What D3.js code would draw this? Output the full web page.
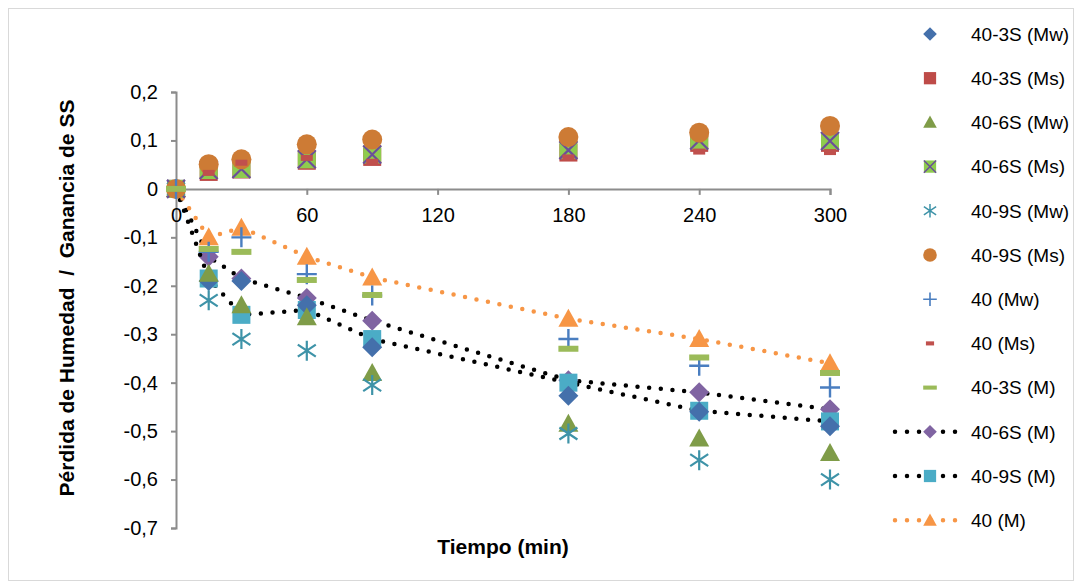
<!DOCTYPE html>
<html><head><meta charset="utf-8">
<script src="https://cdn.jsdelivr.net/npm/d3@7"></script>
<style>
html,body{margin:0;padding:0;background:#fff;}
svg{display:block;font-family:"Liberation Sans",Arial,sans-serif;}
</style></head>
<body>
<svg id="chart" width="1076" height="586"></svg>
<script>
// ---------- data ----------
const times = [0, 15, 30, 60, 90, 180, 240, 300];
const xTicks = [0, 60, 120, 180, 240, 300];
const yTicks = [0.2, 0.1, 0, -0.1, -0.2, -0.3, -0.4, -0.5, -0.6, -0.7];

const s40_3S_Mw = [0, -0.19, -0.19, -0.24, -0.327, -0.427, -0.46, -0.49];
const s40_3S_Ms = [0, 0.035, 0.040, 0.058, 0.066, 0.075, 0.095, 0.095];
const s40_6S_Mw = [0, -0.175, -0.24, -0.265, -0.38, -0.485, -0.515, -0.545];
const s40_6S_Ms = [0, 0.039, 0.041, 0.061, 0.071, 0.080, 0.100, 0.099];
const s40_9S_Mw = [0, -0.23, -0.31, -0.334, -0.405, -0.505, -0.56, -0.60];
const s40_9S_Ms = [0, 0.051, 0.061, 0.092, 0.102, 0.107, 0.116, 0.130];
const s40_Mw    = [0, -0.13, -0.10, -0.176, -0.22, -0.31, -0.365, -0.41];
const s40_Ms    = [0, 0.033, 0.054, 0.064, 0.056, 0.065, 0.077, 0.076];
const s40_3S_M  = [0, -0.124, -0.13, -0.188, -0.219, -0.33, -0.348, -0.38];
const s40_6S_M  = [0, -0.14, -0.185, -0.225, -0.272, -0.395, -0.42, -0.455];
const s40_9S_M  = [0, -0.185, -0.26, -0.25, -0.31, -0.40, -0.458, -0.48];
const s40_M     = [0, -0.10, -0.08, -0.14, -0.183, -0.268, -0.31, -0.36];

const seriesNames = ["40-3S (Mw)", "40-3S (Ms)", "40-6S (Mw)", "40-6S (Ms)", "40-9S (Mw)", "40-9S (Ms)",
                     "40 (Mw)", "40 (Ms)", "40-3S (M)", "40-6S (M)", "40-9S (M)", "40 (M)"];
const seriesValues = [s40_3S_Mw, s40_3S_Ms, s40_6S_Mw, s40_6S_Ms, s40_9S_Mw, s40_9S_Ms,
                      s40_Mw, s40_Ms, s40_3S_M, s40_6S_M, s40_9S_M, s40_M];
const seriesMarker = ["diamond", "square", "triangle", "xsquare", "asterisk", "circle",
                      "plus", "smalldash", "dash", "diamond", "square", "triangle"];
const seriesColor = ["#4470AB", "#BE4B48", "#7F9C48", "#8FCB4E", "#3E93A8", "#CD7B35",
                     "#4A7EC0", "#C0504D", "#9BBB59", "#8064A2", "#4BACC6", "#F79646"];
const seriesLine = [null, null, null, null, null, null, null, null, null, "#000000", "#000000", "#F79646"];
// drawing order (line series underneath, as in the source)
const drawOrder = [9, 10, 11, 0, 1, 2, 3, 4, 5, 6, 7, 8];

// ---------- layout ----------
const svg = d3.select("#chart");
const x = d3.scaleLinear().domain([0, 300]).range([176, 830]);
const y = d3.scaleLinear().domain([-0.7, 0.2]).range([528, 92]);
const fmt = d => (Math.abs(d) < 1e-9 ? "0" : String(+d.toFixed(1)).replace(".", ","));

svg.append("rect").attr("x", 8.5).attr("y", 8.5).attr("width", 1065).attr("height", 572)
  .attr("fill", "#fff").attr("stroke", "#d9d9d9").attr("stroke-width", 1);

// axes
const axisColor = "#8c8c8c";
const gy = svg.append("g").attr("transform", `translate(${x(0)},0)`)
  .call(d3.axisLeft(y).tickValues(yTicks).tickFormat(fmt).tickSize(5).tickSizeOuter(5).tickPadding(13));
const gx = svg.append("g").attr("transform", `translate(0,${y(0)})`)
  .call(d3.axisBottom(x).tickValues(xTicks).tickFormat(d3.format("d")).tickSize(6).tickSizeOuter(6).tickPadding(13));
[gx, gy].forEach(g => {
  g.selectAll("path,line").attr("stroke", axisColor).attr("stroke-width", 2);
  g.selectAll("text").attr("fill", "#000").style("font-size", "20px").style("font-family", "Liberation Sans, Arial, sans-serif");
});

// titles
svg.append("text").attr("x", 503).attr("y", 554).attr("text-anchor", "middle")
  .style("font-size", "21px").style("font-weight", "bold").text("Tiempo (min)");
svg.append("text").attr("transform", "translate(74,298) rotate(-90)").attr("text-anchor", "middle")
  .style("font-size", "21px").style("font-weight", "bold").style("white-space", "pre")
  .attr("xml:space", "preserve").text("Pérdida de Humedad  /  Ganancia de SS");

// ---------- markers ----------
function drawMarker(g, type, color, k) {
  const s = k; // scale
  switch (type) {
    case "diamond":
      g.append("path").attr("d", `M0,${-10*s}L${10*s},0L0,${10*s}L${-10*s},0Z`).attr("fill", color); break;
    case "square":
      g.append("rect").attr("x", -9*s).attr("y", -9*s).attr("width", 18*s).attr("height", 18*s).attr("fill", color); break;
    case "triangle":
      g.append("path").attr("d", `M0,${-10*s}L${10*s},${8*s}L${-10*s},${8*s}Z`).attr("fill", color); break;
    case "circle":
      g.append("circle").attr("r", 10*s).attr("fill", color); break;
    case "xsquare":
      g.append("rect").attr("x", -9*s).attr("y", -9*s).attr("width", 18*s).attr("height", 18*s).attr("fill", color);
      g.append("path").attr("d", `M${-9*s},${-9*s}L${9*s},${9*s}M${-9*s},${9*s}L${9*s},${-9*s}`)
        .attr("stroke", "#6B4E9A").attr("stroke-width", 2.2*s); break;
    case "asterisk":
      g.append("path").attr("d", `M0,${-10*s}L0,${10*s}M${-9*s},${-6*s}L${9*s},${6*s}M${-9*s},${6*s}L${9*s},${-6*s}`)
        .attr("stroke", color).attr("stroke-width", 2.2*s); break;
    case "plus":
      g.append("path").attr("d", `M0,${-10*s}L0,${10*s}M${-10*s},0L${10*s},0`)
        .attr("stroke", color).attr("stroke-width", 2.4*s); break;
    case "dash":
      g.append("rect").attr("x", -10*s).attr("y", -3*s).attr("width", 20*s).attr("height", 6*s).attr("fill", color); break;
    case "smalldash":
      g.append("rect").attr("x", -6*s).attr("y", -3*s).attr("width", 12*s).attr("height", 6*s).attr("fill", color); break;
  }
}

const plot = svg.append("g");
const line = d3.line().x(d => x(d[0])).y(d => y(d[1]));
drawOrder.forEach(i => {
  const pts = times.map((t, j) => [t, seriesValues[i][j]]);
  const g = plot.append("g");
  if (seriesLine[i]) {
    g.append("path").attr("d", line(pts)).attr("fill", "none").attr("stroke", seriesLine[i])
      .attr("stroke-width", 4.5).attr("stroke-linecap", "round").attr("stroke-dasharray", "0,11.7");
  }
  g.selectAll("g.m").data(pts).join("g").attr("class", "m")
    .attr("transform", d => `translate(${x(d[0])},${y(d[1])})`)
    .each(function () { drawMarker(d3.select(this), seriesMarker[i], seriesColor[i], 1); });
});

// ---------- legend ----------
const lg = svg.append("g");
seriesNames.forEach((name, i) => {
  const cy = 34 + i * 44.2;
  const row = lg.append("g");
  if (seriesLine[i]) {
    row.append("path").attr("d", `M895,${cy}L957,${cy}`).attr("stroke", seriesLine[i])
      .attr("stroke-width", 4.5).attr("stroke-linecap", "round").attr("stroke-dasharray", "0,12");
  }
  const m = row.append("g").attr("transform", `translate(930,${cy})`);
  drawMarker(m, seriesMarker[i], seriesColor[i], 0.68);
  row.append("text").attr("x", 971).attr("y", cy).attr("dy", "0.36em")
    .style("font-size", "19px").attr("fill", "#000").text(name);
});
</script>
</body></html>
